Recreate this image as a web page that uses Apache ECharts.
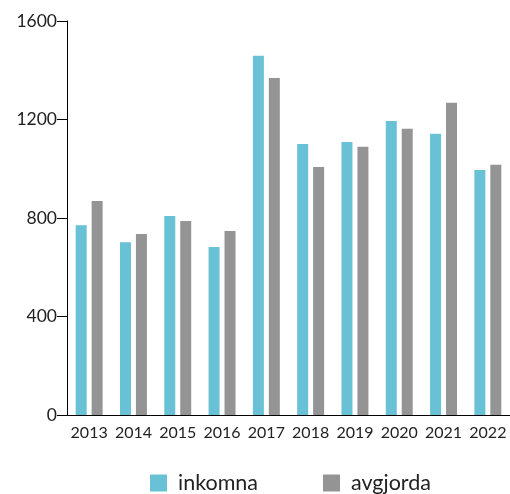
<!DOCTYPE html>
<html><head><meta charset="utf-8">
<script src="https://cdn.jsdelivr.net/npm/echarts@6/dist/echarts.min.js"></script>
<style>html,body{margin:0;padding:0;background:#fff}#c{width:510px;height:494px}</style>
</head><body><div id="c"></div>
<script>
var categories = ['2013','2014','2015','2016','2017','2018','2019','2020','2021','2022'];
var inkomna = [771, 702, 808, 682, 1459, 1101, 1109, 1194, 1142, 995];
var avgjorda = [869, 735, 788, 747, 1369, 1007, 1089, 1162, 1268, 1016];
var yTicks = [0, 400, 800, 1200, 1600];
var chart = echarts.init(document.getElementById('c'));
var font = 'Lato, "Noto Sans", sans-serif';
chart.setOption({
  animation: false,
  textStyle: {fontFamily: font},
  grid: {left: 67, right: -2, top: 21, bottom: 79},
  legend: {
    top: 472, left: 150, padding: 0,
    itemWidth: 17, itemHeight: 17, itemGap: 65,
    icon: 'rect',
    textStyle: {fontSize: 21.5, color: '#222', fontFamily: font, padding: [0, 0, 0, 6]},
    data: ['inkomna', 'avgjorda']
  },
  xAxis: {
    type: 'category', data: categories,
    axisLine: {lineStyle: {color: '#000', width: 1}},
    axisTick: {inside: true, length: 10, interval: 0, lineStyle: {color: '#000'}},
    axisLabel: {fontSize: 16, color: '#222', margin: 10, interval: 0, fontFamily: font}
  },
  yAxis: {
    type: 'value', min: yTicks[0], max: yTicks[yTicks.length-1], interval: 400,
    axisLine: {show: true, lineStyle: {color: '#000', width: 1}},
    axisTick: {show: true, length: 10, lineStyle: {color: '#000'}},
    splitLine: {show: false},
    axisLabel: {fontSize: 17.5, color: '#222', margin: 10, fontFamily: font, formatter: function (v) { return String(v); }}
  },
  series: [
    {name: 'inkomna', type: 'bar', data: inkomna, barWidth: 11, barGap: '45%', itemStyle: {color: '#69c1d5'}},
    {name: 'avgjorda', type: 'bar', data: avgjorda, barWidth: 11, barGap: '45%', itemStyle: {color: '#949494'}}
  ]
});
</script></body></html>
